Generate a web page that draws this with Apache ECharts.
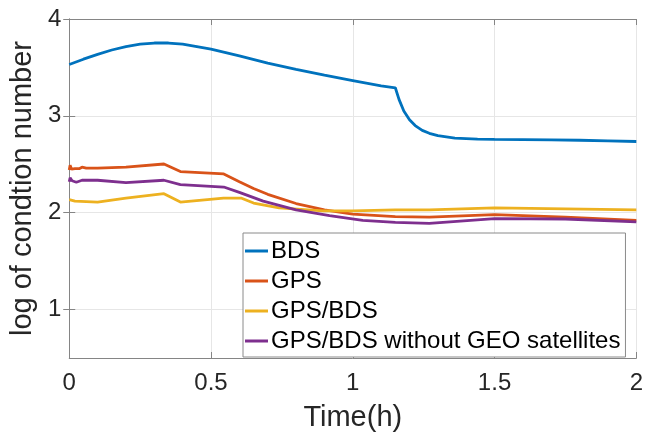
<!DOCTYPE html>
<html>
<head>
<meta charset="utf-8">
<script src="https://cdn.jsdelivr.net/npm/echarts@6/dist/echarts.min.js"></script>
<style>
html,body{margin:0;padding:0;background:#fff;}
#chart{width:646px;height:437px;}
</style>
</head>
<body>
<div id="chart"></div>
<script>
var seriesNames = ['BDS', 'GPS', 'GPS/BDS', 'GPS/BDS without GEO satellites'];
var xTicks = [0, 0.5, 1, 1.5, 2];
var yTicks = [1, 2, 3, 4];

var bdsT = [0, 0.05, 0.1, 0.15, 0.2, 0.25, 0.3, 0.35, 0.4, 0.45, 0.5, 0.6, 0.7, 0.8, 0.9, 1.0, 1.1, 1.15, 1.163, 1.18, 1.2, 1.22, 1.245, 1.27, 1.3, 1.36, 1.44, 1.5, 1.6, 1.7, 1.8, 1.9, 2.0];
var bdsV = [3.53, 3.585, 3.635, 3.68, 3.715, 3.74, 3.752, 3.752, 3.74, 3.715, 3.69, 3.62, 3.545, 3.48, 3.42, 3.365, 3.31, 3.29, 3.17, 3.05, 2.96, 2.9, 2.85, 2.82, 2.795, 2.77, 2.76, 2.757, 2.755, 2.752, 2.748, 2.742, 2.735];

var gpsT = [0, 0.003, 0.008, 0.02, 0.035, 0.045, 0.06, 0.1, 0.2, 0.334, 0.392, 0.545, 0.6, 0.65, 0.7, 0.8, 0.9, 1.0, 1.15, 1.27, 1.5, 1.75, 2.0];
var gpsV = [2.44, 2.49, 2.45, 2.455, 2.455, 2.47, 2.46, 2.46, 2.47, 2.503, 2.425, 2.40, 2.32, 2.25, 2.19, 2.095, 2.03, 1.985, 1.96, 1.955, 1.98, 1.955, 1.92];

var gbT = [0, 0.003, 0.02, 0.1, 0.2, 0.334, 0.392, 0.544, 0.608, 0.65, 0.74, 0.895, 1.0, 1.15, 1.27, 1.5, 1.75, 2.0];
var gbV = [2.135, 2.145, 2.12, 2.11, 2.15, 2.197, 2.11, 2.15, 2.15, 2.10, 2.05, 2.02, 2.02, 2.03, 2.03, 2.05, 2.04, 2.03];

var noGeoT = [0, 0.003, 0.01, 0.025, 0.045, 0.1, 0.2, 0.334, 0.392, 0.545, 0.6, 0.684, 0.8, 0.918, 1.035, 1.15, 1.27, 1.5, 1.75, 2.0];
var noGeoV = [2.32, 2.36, 2.33, 2.315, 2.335, 2.335, 2.31, 2.335, 2.29, 2.265, 2.21, 2.12, 2.03, 1.97, 1.92, 1.90, 1.89, 1.94, 1.935, 1.905];

var colors = ['#0072BD', '#D95319', '#EDB120', '#7E2F8E'];

function pairs(t, v) { return t.map(function (x, i) { return [x, v[i]]; }); }
var allData = [pairs(bdsT, bdsV), pairs(gpsT, gpsV), pairs(gbT, gbV), pairs(noGeoT, noGeoV)];

var FONT = '"Liberation Sans", Arial, Helvetica, sans-serif';
var axisColor = '#858585';
var textColor = '#262626';

var chart = echarts.init(document.getElementById('chart'), null, {renderer: 'canvas'});
chart.setOption({
  animation: false,
  backgroundColor: '#fff',
  grid: {left: 68, right: 7, top: 19, bottom: 75, containLabel: false},
  legend: {
    orient: 'vertical',
    left: 243, top: 233,
    icon: 'rect',
    itemWidth: 23, itemHeight: 3,
    itemGap: 6,
    padding: [6, 5, 4, 2],
    backgroundColor: '#fff',
    borderColor: '#8a8a8a',
    borderWidth: 1,
    borderRadius: 0,
    textStyle: {fontSize: 24, color: '#000', fontFamily: FONT, padding: [0, 0, 0, -2]},
    data: seriesNames
  },
  xAxis: [{
    type: 'value', min: 0, max: 2, interval: 0.5, position: 'bottom',
    name: 'Time(h)', nameLocation: 'middle', nameGap: 45,
    nameTextStyle: {fontSize: 29, color: textColor, fontFamily: FONT},
    axisLine: {show: true, lineStyle: {color: axisColor, width: 1}},
    axisTick: {show: true, inside: true, length: 6, lineStyle: {color: axisColor}},
    axisLabel: {fontSize: 24, color: textColor, fontFamily: FONT, margin: 13,
      formatter: function (v) { return String(v); }},
    splitLine: {show: true, lineStyle: {color: '#e6e6e6', width: 1}}
  }, {
    type: 'value', min: 0, max: 2, interval: 0.5, position: 'top',
    axisLine: {show: true, lineStyle: {color: axisColor, width: 1}},
    axisTick: {show: true, inside: true, length: 6, lineStyle: {color: axisColor}},
    axisLabel: {show: false},
    splitLine: {show: false}
  }],
  yAxis: [{
    type: 'value', min: 0.5, max: 4, position: 'left',
    name: 'log of condtion number', nameLocation: 'middle', nameGap: 21, nameRotate: 90,
    nameTextStyle: {fontSize: 29, color: textColor, fontFamily: FONT},
    axisLine: {show: true, lineStyle: {color: axisColor, width: 1}},
    axisTick: {show: true, inside: true, length: 6, customValues: yTicks, lineStyle: {color: axisColor}},
    axisLabel: {fontSize: 24, color: textColor, fontFamily: FONT, margin: 8, customValues: yTicks},
    splitLine: {show: true, lineStyle: {color: '#e6e6e6', width: 1}}
  }, {
    type: 'value', min: 0.5, max: 4, position: 'right',
    axisLine: {show: true, lineStyle: {color: axisColor, width: 1}},
    axisTick: {show: true, inside: true, length: 6, customValues: yTicks, lineStyle: {color: axisColor}},
    axisLabel: {show: false, customValues: yTicks},
    splitLine: {show: false}
  }],
  series: seriesNames.map(function (name, i) {
    return {
      name: name, type: 'line', data: allData[i],
      xAxisIndex: 0, yAxisIndex: 0,
      showSymbol: false, symbol: 'none', smooth: false,
      lineStyle: {color: colors[i], width: 2.8},
      itemStyle: {color: colors[i]},
      z: 2 + i
    };
  })
});
</script>
</body>
</html>
